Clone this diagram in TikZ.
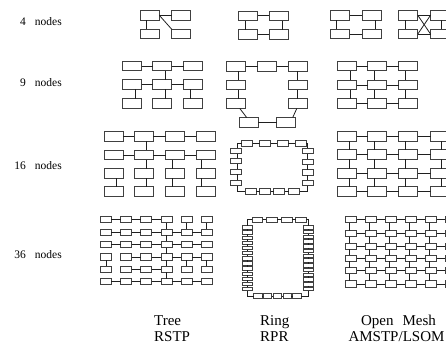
\documentclass[tikz,border=0pt]{standalone}
\usepackage{fontspec}
\setmainfont{Liberation Serif}
\newcommand{\hcon}[2]{\draw[ln] (#1.east) -- (#2.west);}
\newcommand{\vcon}[3][0]{\draw[ln] ([xshift=#1pt]#2.south) -- ([xshift=#1pt]#3.north);}
\begin{document}
\begin{tikzpicture}[x=1pt,y=-1pt,
  bx/.style={draw=black!75, line width=0.95pt, rectangle, inner sep=0pt, outer sep=0pt},
  big/.style={bx, minimum width=19pt, minimum height=9.5pt},
  sm/.style={bx, minimum width=11pt, minimum height=6pt, line width=0.8pt},
  tiny/.style={bx, minimum width=10pt, minimum height=3.4pt, line width=0.65pt},
  ln/.style={draw=black!88, line width=0.8pt},
  rowlab/.style={anchor=base east, font=\fontsize{11.5}{13}\selectfont, inner sep=0pt},
  collab/.style={anchor=base west, font=\fontsize{15}{17}\selectfont, inner sep=0pt},
  colmid/.style={anchor=base, font=\fontsize{15}{17}\selectfont, inner sep=0pt},
]
\useasboundingbox (0,0) rectangle (446,345);
\clip (0,0) rectangle (446,345);

% ---------- labels ----------
\node[rowlab] (l4) at (62,26) {4\hspace{9pt}nodes};
\node[rowlab] (l9) at (62,86) {9\hspace{9pt}nodes};
\node[rowlab] (l16) at (62,169) {16\hspace{9pt}nodes};
\node[rowlab] (l36) at (62,258) {36\hspace{9pt}nodes};
\node[collab] (tree) at (154,325.5) {Tree};
\node[collab] (rstp) at (154,341.5) {RSTP};
\node[collab] (ring) at (260,325.5) {Ring};
\node[collab] (rpr) at (260,341.5) {RPR};
\node[colmid] (mesh) at (398.5,325.5) {Open\hspace{9pt}Mesh};
\node[colmid] (amstp) at (396.5,341.5) {AMSTP/LSOM};

% ---------- 4 nodes ----------
\node[big] (ta1) at (149.8,15.3) {};
\node[big] (ta2) at (181.2,15.3) {};
\node[big] (ta3) at (149.8,34) {};
\node[big] (ta4) at (181.2,34) {};
\hcon{ta1}{ta2}
\vcon[-3]{ta1}{ta3}
\draw[ln] (ta1.east) -- (ta4.north west);

\node[big] (ra1) at (248.3,15.8) {};
\node[big] (ra2) at (278.8,15.8) {};
\node[big] (ra3) at (248.3,34.3) {};
\node[big] (ra4) at (278.8,34.3) {};
\hcon{ra1}{ra2}
\hcon{ra3}{ra4}
\vcon[-2.6]{ra1}{ra3}
\vcon[3.9]{ra2}{ra4}

\node[big] (ma1) at (340.3,15.3) {};
\node[big] (ma2) at (371.7,15.3) {};
\node[big] (ma3) at (340.3,34) {};
\node[big] (ma4) at (371.7,34) {};
\hcon{ma1}{ma2}
\hcon{ma3}{ma4}
\vcon[-3.6]{ma1}{ma3}
\vcon[3.3]{ma2}{ma4}

\node[big] (mb1) at (408.3,15.3) {};
\node[big] (mb2) at (440,15.3) {};
\node[big] (mb3) at (408.3,34) {};
\node[big] (mb4) at (440,34) {};
\hcon{mb1}{mb2}
\hcon{mb3}{mb4}
\vcon[-2.6]{mb1}{mb3}
\vcon[1.7]{mb2}{mb4}
\draw[ln] (mb1.east) -- (mb4.west);
\draw[ln] (mb3.east) -- (mb2.west);

% ---------- 9 nodes ----------
\foreach \r/\y in {1/66,2/84.7,3/103.3}{
  \foreach \c/\x in {1/132.2,2/162.3,3/193.3}{
    \node[big] (t9-\r-\c) at (\x,\y) {};}}
\hcon{t9-1-1}{t9-1-2}
\hcon{t9-1-2}{t9-1-3}
\vcon[3]{t9-1-2}{t9-2-2}
\hcon{t9-2-1}{t9-2-2}
\hcon{t9-2-2}{t9-2-3}
\vcon[3]{t9-2-1}{t9-3-1}
\vcon[3]{t9-2-2}{t9-3-2}
\vcon[-3]{t9-2-3}{t9-3-3}

\node[big] (r9-t1) at (236.3,66.7) {};
\node[big] (r9-t2) at (267.2,66.7) {};
\node[big] (r9-t3) at (297.8,66.7) {};
\node[big] (r9-l1) at (236.3,85) {};
\node[big] (r9-l2) at (236.3,103.7) {};
\node[big] (r9-r1) at (297.8,85) {};
\node[big] (r9-r2) at (297.8,103.7) {};
\node[big] (r9-b1) at (248.7,122.3) {};
\node[big] (r9-b2) at (286.3,122.3) {};
\hcon{r9-t1}{r9-t2}
\hcon{r9-t2}{r9-t3}
\vcon[2.5]{r9-t1}{r9-l1}
\vcon[2.5]{r9-l1}{r9-l2}
\vcon{r9-t3}{r9-r1}
\vcon{r9-r1}{r9-r2}
\draw[ln] ([xshift=3.5pt]r9-l2.south) -- ([xshift=-2pt]r9-b1.north);
\draw[ln] ([xshift=-1pt]r9-r2.south) -- ([xshift=6.4pt]r9-b2.north);
\hcon{r9-b1}{r9-b2}

\foreach \r/\y in {1/66,2/85,3/103.3}{
  \foreach \c/\x in {1/347,2/377.3,3/408.3}{
    \node[big] (m9-\r-\c) at (\x,\y) {};}}
\foreach \r in {1,2,3} {
  \hcon{m9-\r-1}{m9-\r-2}
  \hcon{m9-\r-2}{m9-\r-3}
}
\foreach \c/\o in {1/3,2/-3.2,3/-3.3} {
  \vcon[\o]{m9-1-\c}{m9-2-\c}
  \vcon[\o]{m9-2-\c}{m9-3-\c}
}

% ---------- 16 nodes ----------
\foreach \r/\y in {1/136.7,2/155,3/173.3,4/191.7}{
  \foreach \c/\x in {1/113.7,2/143.8,3/175.2,4/205.8}{
    \node[big] (t16-\r-\c) at (\x,\y) {};}}
\hcon{t16-1-1}{t16-1-2}
\hcon{t16-1-2}{t16-1-3}
\hcon{t16-1-3}{t16-1-4}
\vcon[2.9]{t16-1-2}{t16-2-2}
\hcon{t16-2-1}{t16-2-2}
\hcon{t16-2-2}{t16-2-3}
\hcon{t16-2-3}{t16-2-4}
\vcon[2.9]{t16-2-2}{t16-3-2}
\vcon[-3.3]{t16-2-3}{t16-3-3}
\vcon[-4]{t16-2-4}{t16-3-4}
\vcon[3]{t16-3-1}{t16-4-1}
\vcon[2.9]{t16-3-2}{t16-4-2}
\vcon[-3.3]{t16-3-3}{t16-4-3}
\vcon[-4]{t16-3-4}{t16-4-4}

\foreach \i/\x in {1/247,2/265,3/282.8,4/300.5}{
  \node[sm] (r16-t\i) at (\x,143.3) {};}
\foreach \i/\y in {1/150.8,2/161,3/171.7,4/183}{
  \node[sm,minimum height=5.5pt] (r16-l\i) at (236.2,\y) {};}
\foreach \i/\y in {1/151,2/161.8,3/172.5,4/183}{
  \node[sm,minimum height=5.5pt] (r16-r\i) at (307.8,\y) {};}
\foreach \i/\x in {1/250.8,2/265,3/279.2,4/294.2}{
  \node[sm] (r16-b\i) at (\x,191.3) {};}
\hcon{r16-t1}{r16-t2}
\hcon{r16-t2}{r16-t3}
\hcon{r16-t3}{r16-t4}
\draw[ln] (r16-t1.west) -| ([xshift=1pt]r16-l1.north);
\vcon[1]{r16-l1}{r16-l2}
\vcon[1]{r16-l2}{r16-l3}
\vcon[1]{r16-l3}{r16-l4}
\draw[ln] ([xshift=1pt]r16-l4.south) |- (r16-b1.west);
\hcon{r16-b1}{r16-b2}
\hcon{r16-b2}{r16-b3}
\hcon{r16-b3}{r16-b4}
\draw[ln] (r16-b4.east) -| (r16-r4.south);
\vcon{r16-r1}{r16-r2}
\vcon{r16-r2}{r16-r3}
\vcon{r16-r3}{r16-r4}
\draw[ln] (r16-t4.east) -| (r16-r1.north);

\foreach \r/\y in {1/136.3,2/154.7,3/173.3,4/191.7}{
  \foreach \c/\x in {1/347,2/377.3,3/408.2,4/440}{
    \node[big] (m16-\r-\c) at (\x,\y) {};}}
\foreach \r in {1,2,3,4} {
  \hcon{m16-\r-1}{m16-\r-2}
  \hcon{m16-\r-2}{m16-\r-3}
  \hcon{m16-\r-3}{m16-\r-4}
}
\foreach \c/\o in {1/2.3,2/-3.2,3/-3,4/1.7} {
  \vcon[\o]{m16-1-\c}{m16-2-\c}
  \vcon[\o]{m16-2-\c}{m16-3-\c}
  \vcon[\o]{m16-3-\c}{m16-4-\c}
}

% ---------- 36 nodes ----------
\foreach \r/\y in {1/219.7,2/232.1,3/244.5,4/256.9,5/269.3,6/281.7}{
  \foreach \c/\x in {1/105.8,2/126,3/146.2,4/166.4,5/186.6,6/206.8}{
    \node[sm,minimum height=6.3pt] (t36-\r-\c) at (\x,\y) {};}}
\hcon{t36-1-1}{t36-1-2}
\hcon{t36-1-2}{t36-1-3}
\hcon{t36-1-3}{t36-1-4}
\vcon{t36-1-4}{t36-2-4}
\vcon{t36-1-5}{t36-2-5}
\vcon{t36-1-6}{t36-2-6}
\foreach \c [evaluate=\c as \cn using int(\c+1)] in {1,...,5} {
  \hcon{t36-2-\c}{t36-2-\cn}
  \hcon{t36-3-\c}{t36-3-\cn}
  \hcon{t36-6-\c}{t36-6-\cn}
}
\vcon{t36-2-4}{t36-3-4}
\vcon{t36-3-4}{t36-4-4}
\hcon{t36-4-2}{t36-4-3}
\hcon{t36-4-3}{t36-4-4}
\hcon{t36-4-4}{t36-4-5}
\hcon{t36-4-5}{t36-4-6}
\vcon[1]{t36-4-1}{t36-5-1}
\vcon{t36-4-4}{t36-5-4}
\vcon{t36-4-5}{t36-5-5}
\vcon{t36-4-6}{t36-5-6}
\hcon{t36-5-2}{t36-5-3}
\hcon{t36-5-3}{t36-5-4}
\vcon{t36-5-4}{t36-6-4}

\foreach \i/\x in {1/257.5,2/271.7,3/286.7,4/300.8}{
  \node[sm,minimum width=10.5pt,minimum height=5.5pt] (r36-t\i) at (\x,219.7) {};}
\foreach \i in {1,...,13} {
  \node[tiny] (r36-l\i) at (247,{227.3+(\i-1)*5.14}) {};
}
\foreach \i in {1,...,14} {
  \node[tiny] (r36-r\i) at (308.7,{227.3+(\i-1)*4.74}) {};
}
\foreach \i/\x in {1/257.8,2/267.6,3/277.4,4/287.2,5/297}{
  \node[sm,minimum width=8.4pt,minimum height=5pt,line width=0.7pt] (r36-b\i) at (\x,296) {};}
\hcon{r36-t1}{r36-t2}
\hcon{r36-t2}{r36-t3}
\hcon{r36-t3}{r36-t4}
\draw[ln] (r36-t1.west) -| (r36-l1.north);
\foreach \i [evaluate=\i as \nx using int(\i+1)] in {1,...,12} {
  \vcon{r36-l\i}{r36-l\nx}
}
\foreach \i [evaluate=\i as \nx using int(\i+1)] in {1,...,13} {
  \vcon{r36-r\i}{r36-r\nx}
}
\draw[ln] (r36-l13.south) |- (r36-b1.west);
\hcon{r36-b1}{r36-b2}
\hcon{r36-b2}{r36-b3}
\hcon{r36-b3}{r36-b4}
\hcon{r36-b4}{r36-b5}
\draw[ln] (r36-b5.east) -| (r36-r14.south);
\draw[ln] (r36-t4.east) -| (r36-r1.north);

\foreach \r/\y in {1/219.7,2/233.7,3/246.3,4/258.3,5/270.7,6/284}{
  \foreach \c/\x in {1/350.8,2/370.8,3/390.8,4/410.8,5/430.8,6/450.8}{
    \node[sm,minimum width=11.7pt,minimum height=6.3pt] (m36-\r-\c) at (\x,\y) {};}}
\foreach \r in {1,...,6}{
  \foreach \c [evaluate=\c as \cn using int(\c+1)] in {1,...,5}{
    \hcon{m36-\r-\c}{m36-\r-\cn}}}
\foreach \c in {1,...,6}{
  \foreach \r [evaluate=\r as \rn using int(\r+1)] in {1,...,5}{
    \vcon[-1]{m36-\r-\c}{m36-\rn-\c}}}
\end{tikzpicture}
\end{document}
